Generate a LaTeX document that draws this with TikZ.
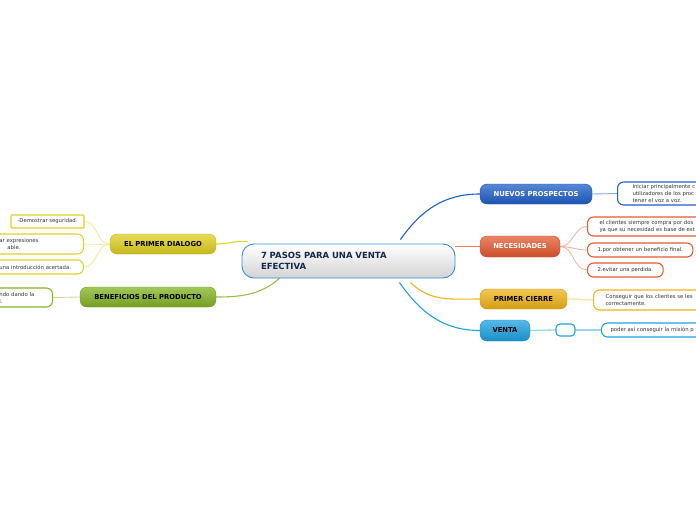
\documentclass[tikz,border=0pt]{standalone}
\usepackage{fontspec}
\setmainfont{DejaVu Sans}
\usetikzlibrary{backgrounds}
\definecolor{cBlue}{HTML}{1F5FC8}
\definecolor{cOrange}{HTML}{E55A30}
\definecolor{cGold}{HTML}{F0B318}
\definecolor{cSky}{HTML}{1DA2E2}
\definecolor{cYellow}{HTML}{E0D020}
\definecolor{cGreen}{HTML}{84B424}
\definecolor{cNavy}{HTML}{14284B}
\definecolor{cRim}{HTML}{3A8ED6}
\definecolor{cText}{HTML}{333333}

\begin{document}
\begin{tikzpicture}[
    x=1pt, y=-1pt,
    main/.style={draw=cRim, line width=0.9pt, rounded corners=12pt, top color=white, bottom color=black!17,
        minimum width=213pt, minimum height=34pt, text width=175pt, inner xsep=19pt, align=left,
        text=cNavy, font=\bfseries\fontsize{8.5}{11}\selectfont},
    branch/.style={rounded corners=7pt, minimum height=20pt, inner xsep=0pt, draw=#1!85!black, line width=0.4pt,
        top color=#1!75!white, bottom color=#1!88!black, font=\bfseries\fontsize{6.8}{8}\selectfont},
    leaf/.style={draw=#1, fill=white, rounded corners=6pt, line width=1.1pt, align=left, inner ysep=0pt,
        text=cText, font=\fontsize{5.3}{7}\selectfont},
    link/.style={draw=#1, line width=1.1pt},
    twig/.style={draw=#1, line width=0.9pt}
]
\clip (0,0) rectangle (696,520);

\node[main] (pasos) at (348.5,261) {7 PASOS PARA UNA VENTA\\EFECTIVA};

\node[branch=cBlue, minimum width=112pt, text=white] (nuevos) at (536,194) {NUEVOS PROSPECTOS};
\node[branch=cOrange, minimum width=80pt, minimum height=21pt, text=white] (necesidades) at (520,246.5) {NECESIDADES};
\node[branch=cGold, minimum width=87pt, text=black] (cierre) at (523.5,299) {PRIMER CIERRE};
\node[branch=cSky, minimum width=50pt, minimum height=21pt, text=black] (venta) at (505,330.5) {VENTA};
\node[branch=cYellow, minimum width=106pt, text=black] (dialogo) at (163,244) {EL PRIMER DIALOGO};
\node[branch=cGreen, minimum width=136pt, text=black] (beneficios) at (148,297) {BENEFICIOS DEL PRODUCTO};

\node[leaf=cBlue, anchor=west, minimum height=23pt, inner xsep=15pt, text width=110pt] (prospectos) at (617,193.5)
    {Iniciar principalmente c\\utilizadores de los proc\\tener el voz a voz.};
\node[leaf=cOrange, anchor=west, minimum height=19pt, inner xsep=12pt, text width=110pt] (compra) at (587,226.5)
    {el clientes siempre compra por dos\\ya que su necesidad es base de est};
\node[leaf=cOrange, anchor=west, minimum height=14pt, inner xsep=10pt] (beneficio) at (587,250)
    {1.por obtener un beneficio final.};
\node[leaf=cOrange, anchor=west, minimum height=14pt, inner xsep=10pt] (perdida) at (587,270)
    {2.evitar una perdida.};
\node[leaf=cGold, anchor=west, minimum height=20pt, inner xsep=12pt, text width=110pt] (conseguir) at (593,300)
    {Conseguir que los clientes se les\\correctamente.};
\node[leaf=cSky, rounded corners=4pt, minimum width=19pt, minimum height=12pt, inner sep=0pt] (vacio) at (565.5,330) {};
\node[leaf=cSky, anchor=west, minimum height=14pt, inner xsep=9pt, text width=110pt] (mision) at (601,330)
    {poder así conseguir la misión p};
\node[leaf=cYellow, rounded corners=1pt, minimum width=73pt, minimum height=13pt] (seguridad) at (47.5,221.5)
    {-Demostrar seguridad.};
\node[leaf=cYellow, anchor=east, minimum height=20pt, inner xsep=11pt, text width=73pt] (expresiones) at (84,244)
    {ar expresiones\\\hspace*{8pt}able.};
\node[leaf=cYellow, anchor=east, minimum height=14pt, inner xsep=11pt, text width=73pt] (introduccion) at (84,267)
    {una introducción acertada.};
\node[leaf=cGreen, anchor=east, minimum height=19pt, inner xsep=11pt, text width=42pt] (dando) at (53,297.5)
    {ndo dando la\\l.};

\begin{scope}[on background layer]
\draw[link=cBlue] ([xshift=-55pt,yshift=4pt]pasos.north east) to[out=55,in=180] (nuevos.west);
\draw[link=cOrange!80!white] (pasos.east |- necesidades.west) -- (necesidades.west);
\draw[link=cGold] ([xshift=-45pt,yshift=-4pt]pasos.south east) to[out=-45,in=180] (cierre.west);
\draw[link=cSky] ([xshift=-56pt,yshift=-4pt]pasos.south east) to[out=-55,in=180] (venta.west);
\draw[link=cYellow] (dialogo.east) to[out=0,in=175] ([xshift=6pt,yshift=2pt]pasos.north west);
\draw[link=cGreen!85!white] (beneficios.east) to[out=0,in=-135] ([xshift=42pt,yshift=4pt]pasos.south west);

\draw[twig=cBlue!55!white] (nuevos.east) -- (prospectos.west);
\draw[twig=cOrange!45!white] (necesidades.east) to[out=0,in=180] (compra.west);
\draw[twig=cOrange!45!white] (necesidades.east) to[out=0,in=180] (beneficio.west);
\draw[twig=cOrange!45!white] (necesidades.east) to[out=0,in=180] (perdida.west);
\draw[twig=cGold!35!white, line width=1.4pt] (cierre.east) to[out=0,in=180] (conseguir.west);
\draw[twig=cSky!45!white, line width=1.3pt] (venta.east) -- (vacio.west);
\draw[twig=cSky!45!white, line width=1.3pt] (vacio.east) -- (mision.west);
\draw[twig=cYellow!45!white] (dialogo.west) to[out=180,in=0] (seguridad.east);
\draw[twig=cYellow!45!white] (dialogo.west) to[out=180,in=0] (expresiones.east);
\draw[twig=cYellow!45!white] (dialogo.west) to[out=180,in=0] (introduccion.east);
\draw[twig=cGreen!45!white] (beneficios.west) -- (dando.east);
\end{scope}
\end{tikzpicture}
\end{document}
